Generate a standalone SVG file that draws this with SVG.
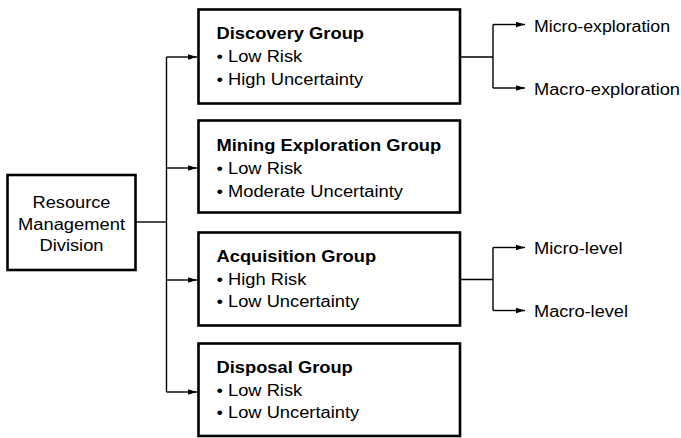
<svg xmlns="http://www.w3.org/2000/svg" width="681" height="438" viewBox="0 0 681 438">
<style>
.box{fill:#fff;stroke:#000;stroke-width:2.6}
.ln{fill:none;stroke:#000;stroke-width:1.4}
text{font-family:"Liberation Sans",Arial,Helvetica,sans-serif;font-size:16px;fill:#000}
.b{font-weight:bold}
.c{text-anchor:middle}
</style>
<defs>
<marker id="ah" markerUnits="userSpaceOnUse" markerWidth="9" markerHeight="7" refX="9" refY="3.5" orient="auto">
<path d="M0,0.7 L9,3.5 L0,6.3 z" fill="#000"/>
</marker>
</defs>
<g id="connectors">
<path class="ln" d="M136,222 H166.5"/>
<path class="ln" d="M166.5,57 V392"/>
<path class="ln" d="M166.5,57 H197" marker-end="url(#ah)"/>
<path class="ln" d="M166.5,168 H197" marker-end="url(#ah)"/>
<path class="ln" d="M166.5,280 H197" marker-end="url(#ah)"/>
<path class="ln" d="M166.5,392 H197" marker-end="url(#ah)"/>
<path class="ln" d="M460,57 H493 M493,24.5 V88"/>
<path class="ln" d="M493,24.5 H525" marker-end="url(#ah)"/>
<path class="ln" d="M493,88 H525" marker-end="url(#ah)"/>
<path class="ln" d="M460,279.5 H493 M493,247.5 V310.5"/>
<path class="ln" d="M493,247.5 H525" marker-end="url(#ah)"/>
<path class="ln" d="M493,310.5 H525" marker-end="url(#ah)"/>
</g>
<g id="rmd">
<rect class="box" x="7.5" y="175" width="128" height="95"/>
<text class="c" x="71.5" y="207.5" textLength="78" lengthAdjust="spacingAndGlyphs">Resource</text>
<text class="c" x="71.5" y="229.5" textLength="107" lengthAdjust="spacingAndGlyphs">Management</text>
<text class="c" x="71.5" y="251" textLength="64" lengthAdjust="spacingAndGlyphs">Division</text>
</g>
<g id="discovery">
<rect class="box" x="198.5" y="9.5" width="261.5" height="94"/>
<text class="b" x="216.5" y="38.5" textLength="147.5" lengthAdjust="spacingAndGlyphs">Discovery Group</text>
<text x="216.5" y="61.5" textLength="85.7" lengthAdjust="spacingAndGlyphs">• Low Risk</text>
<text x="216.5" y="84.5" textLength="146.7" lengthAdjust="spacingAndGlyphs">• High Uncertainty</text>
</g>
<g id="mining">
<rect class="box" x="198.5" y="120.5" width="261.5" height="92"/>
<text class="b" x="216.5" y="151" textLength="224.7" lengthAdjust="spacingAndGlyphs">Mining Exploration Group</text>
<text x="216.5" y="174" textLength="85.7" lengthAdjust="spacingAndGlyphs">• Low Risk</text>
<text x="216.5" y="196.5" textLength="186.4" lengthAdjust="spacingAndGlyphs">• Moderate Uncertainty</text>
</g>
<g id="acquisition">
<rect class="box" x="198.5" y="232.5" width="261.5" height="93"/>
<text class="b" x="216.5" y="261.5" textLength="159.6" lengthAdjust="spacingAndGlyphs">Acquisition Group</text>
<text x="216.5" y="284.5" textLength="89.8" lengthAdjust="spacingAndGlyphs">• High Risk</text>
<text x="216.5" y="307" textLength="142.7" lengthAdjust="spacingAndGlyphs">• Low Uncertainty</text>
</g>
<g id="disposal">
<rect class="box" x="198.5" y="343.5" width="261.5" height="92.5"/>
<text class="b" x="216.5" y="373" textLength="136.3" lengthAdjust="spacingAndGlyphs">Disposal Group</text>
<text x="216.5" y="395.5" textLength="85.7" lengthAdjust="spacingAndGlyphs">• Low Risk</text>
<text x="216.5" y="417.5" textLength="142.7" lengthAdjust="spacingAndGlyphs">• Low Uncertainty</text>
</g>
<g id="micro-exploration">
<text x="534" y="31.5" textLength="136" lengthAdjust="spacingAndGlyphs">Micro-exploration</text>
</g>
<g id="macro-exploration">
<text x="534" y="94.5" textLength="146" lengthAdjust="spacingAndGlyphs">Macro-exploration</text>
</g>
<g id="micro-level">
<text x="534" y="254" textLength="88.5" lengthAdjust="spacingAndGlyphs">Micro-level</text>
</g>
<g id="macro-level">
<text x="534" y="317" textLength="94" lengthAdjust="spacingAndGlyphs">Macro-level</text>
</g>
</svg>
